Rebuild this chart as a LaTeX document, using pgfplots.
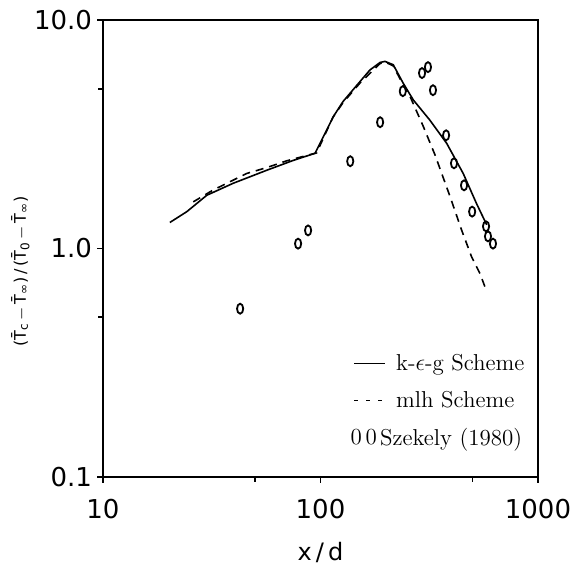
\documentclass[border=0pt]{standalone}
\usepackage{fontspec}
\setsansfont{DejaVu Sans}
\usepackage{pgfplots}
\pgfplotsset{compat=1.18}
\pgfdeclareplotmark{oval}{%
  \pgfpathellipse{\pgfpointorigin}{\pgfqpoint{0.62\pgfplotmarksize}{0pt}}{\pgfqpoint{0pt}{\pgfplotmarksize}}%
  \pgfusepathqstroke}
\pgfplotsset{
  shortline/.style={legend image code/.code={\draw[##1] (0pt,0pt) -- (15.5pt,0pt);}},
  shortdash/.style={legend image code/.code={\draw[##1, dash pattern=on 2pt off 4pt] (0pt,0pt) -- (15.5pt,0pt);}},
  zerozero/.style={legend image code/.code={%
    \node[overlay, inner sep=0pt, font=\fontsize{11.5}{13}\selectfont] at (-2pt,0pt) {0};
    \node[overlay, inner sep=0pt, font=\fontsize{11.5}{13}\selectfont] at (5.5pt,0pt) {0};}},
}
\begin{document}
\begin{tikzpicture}
\path[use as bounding box] (0,0) rectangle (286.5pt,284pt);
\begin{axis}[
  at={(51.5pt,45.5pt)}, anchor=south west,
  scale only axis, width=217.5pt, height=228.5pt,
  xmode=log, ymode=log,
  xmin=10, xmax=1000, ymin=0.1, ymax=10,
  xtick={10,100,1000}, xticklabels={10,100,1000},
  ytick={0.1,1,10}, yticklabels={0.1,1.0,10.0},
  minor xtick={50,500}, minor ytick={0.5,5},
  xtick pos=bottom, ytick pos=left,
  tick align=outside, major tick length=3pt, minor tick length=2.5pt,
  axis line style={line width=1.2pt},
  tick style={line width=0.8pt, black},
  ticklabel style={font=\sffamily\fontsize{13}{15}\selectfont},
  /pgf/number format/assume math mode=true,
  xticklabel style={yshift=-4.5pt},
  yticklabel style={xshift=1pt},
  xlabel={x\,/\,d},
  xlabel style={font=\sffamily\fontsize{12}{14}\selectfont, at={(axis description cs:0.5,-0.166)}, anchor=center},
  ylabel={(\=T\textsubscript{c}\,$-$\,\=T\textsubscript{∞})\,/\,(\=T\textsubscript{0}\,$-$\,\=T\textsubscript{∞})},
  ylabel style={font=\sffamily\fontsize{8}{10}\selectfont, at={(axis description cs:-0.19,0.45)}, anchor=center},
  legend style={at={(axis description cs:0.575,0.279)}, anchor=north west, draw=none, fill=none,
    font=\fontsize{11.5}{13}\selectfont, row sep=5pt, inner sep=0pt, column sep=3pt},
  legend cell align=left,
]
\addplot[black, line width=0.8pt, shortline] table {
20.3 1.30
24.3 1.45
30.0 1.71
39.7 1.93
56.6 2.20
75 2.43
94.4 2.61
114.6 3.78
127 4.40
152 5.38
169 6.05
188 6.52
198 6.59
216 6.37
240 5.29
267 4.47
318 3.65
380 2.89
453 2.13
522 1.57
581 1.27
};
\addlegendentry{k-$\epsilon$-g Scheme}
\addplot[black, line width=0.8pt, dash pattern=on 4pt off 3pt, shortdash] table {
26 1.60
32 1.80
45.8 2.13
56.6 2.26
70 2.42
90 2.58
96 2.62
114 3.75
127 4.35
152 5.3
188 6.45
198 6.55
216 6.3
240 5.2
258 4.63
297 3.42
336 2.57
394 1.69
446 1.20
495 0.92
541 0.777
577 0.66
};
\addlegendentry{mlh Scheme}
\addplot[only marks, mark=oval, mark size=2.5pt, mark options={line width=0.9pt, black}, zerozero] table {
42.7 0.545
78.9 1.05
87.7 1.20
137 2.41
188 3.57
239 4.88
293 5.86
312 6.22
329 4.93
378 3.13
411 2.36
457 1.89
498 1.45
577 1.25
589 1.13
621 1.05
};
\addlegendentry{\hspace*{-8pt}Szekely (1980)}
\end{axis}
\end{tikzpicture}
\end{document}
